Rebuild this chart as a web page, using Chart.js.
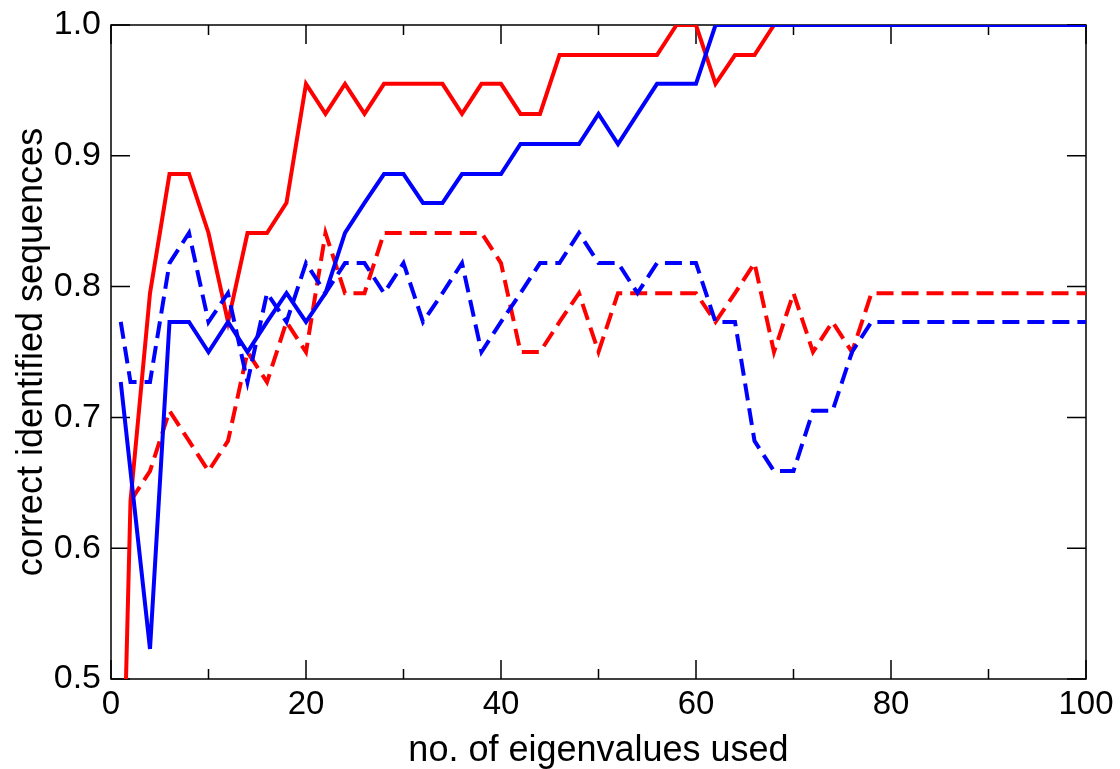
<!DOCTYPE html>
<html><head><meta charset="utf-8">
<script src="https://cdn.jsdelivr.net/npm/chart.js@4"></script>
<style>html,body{margin:0;padding:0;background:#fff}#wrap{width:1120px;height:769px;position:relative}</style>
</head><body><div id="wrap"><canvas id="c"></canvas></div>
<script>
// x positions (number of eigenvalues used)
const xValues = [1,2,4,6,8,10,12,14,16,18,20,22,24,26,28,30,32,34,36,38,40,42,44,46,48,50,52,54,56,58,60,62,64,66,68,70,72,74,76,78,80,82,84,86,88,90,92,94,96,98,100];

const redSolid = [0.341,0.636,0.795,0.886,0.886,0.841,0.773,0.841,0.841,0.864,0.955,0.932,0.955,0.932,0.955,0.955,0.955,0.955,0.932,0.955,0.955,0.932,0.932,0.977,0.977,0.977,0.977,0.977,0.977,1.0,1.0,0.955,0.977,0.977,1.0,1.0,1.0,1.0,1.0,1.0,1.0,1.0,1.0,1.0,1.0,1.0,1.0,1.0,1.0,1.0,1.0];

const redDashed = [null,0.636,0.659,0.705,0.682,0.659,0.682,0.75,0.727,0.773,0.75,0.841,0.795,0.795,0.841,0.841,0.841,0.841,0.841,0.841,0.818,0.75,0.75,0.773,0.795,0.75,0.795,0.795,0.795,0.795,0.795,0.773,0.795,0.818,0.75,0.795,0.75,0.773,0.75,0.795,0.795,0.795,0.795,0.795,0.795,0.795,0.795,0.795,0.795,0.795,0.795];

const blueSolid = [0.727,0.659,0.523,0.773,0.773,0.75,0.773,0.75,0.773,0.795,0.773,0.795,0.841,0.864,0.886,0.886,0.864,0.864,0.886,0.886,0.886,0.909,0.909,0.909,0.909,0.932,0.909,0.932,0.955,0.955,0.955,1.0,1.0,1.0,1.0,1.0,1.0,1.0,1.0,1.0,1.0,1.0,1.0,1.0,1.0,1.0,1.0,1.0,1.0,1.0,1.0];

const blueDashed = [0.773,0.727,0.727,0.818,0.841,0.773,0.795,0.727,0.795,0.773,0.818,0.795,0.818,0.818,0.795,0.818,0.773,0.795,0.818,0.75,0.773,0.795,0.818,0.818,0.841,0.818,0.818,0.795,0.818,0.818,0.818,0.773,0.773,0.682,0.659,0.659,0.705,0.705,0.75,0.773,0.773,0.773,0.773,0.773,0.773,0.773,0.773,0.773,0.773,0.773,0.773];

const xMajorTicks = [0,20,40,60,80,100];
const xMinorTicks = [10,30,50,70,90];
const yMajorTicks = [0.5,0.6,0.7,0.8,0.9,1.0];

const xTitle = 'no. of eigenvalues used';
const yTitle = 'correct identified sequences';

function pts(ys){ return xValues.map((x,i)=>({x:x,y:ys[i]})); }

const frameTicks = {
  id:'frameTicks',
  beforeDatasetsDraw(chart){
    const ctx = chart.ctx, a = chart.chartArea;
    const xs = chart.scales.x, ys = chart.scales.y;
    ctx.save();
    ctx.strokeStyle = '#000';
    ctx.lineWidth = 1.5;
    ctx.strokeRect(a.left, a.top, a.right - a.left, a.bottom - a.top);
    ctx.beginPath();
    const major = 19, minor = 10;
    xMajorTicks.forEach(v=>{ const p = xs.getPixelForValue(v);
      ctx.moveTo(p,a.bottom); ctx.lineTo(p,a.bottom-major);
      ctx.moveTo(p,a.top); ctx.lineTo(p,a.top+major); });
    xMinorTicks.forEach(v=>{ const p = xs.getPixelForValue(v);
      ctx.moveTo(p,a.bottom); ctx.lineTo(p,a.bottom-minor);
      ctx.moveTo(p,a.top); ctx.lineTo(p,a.top+minor); });
    yMajorTicks.forEach(v=>{ const p = ys.getPixelForValue(v);
      ctx.moveTo(a.left,p); ctx.lineTo(a.left+major,p);
      ctx.moveTo(a.right,p); ctx.lineTo(a.right-major,p); });
    ctx.stroke();
    ctx.restore();
  }
};

const FONT = '"Liberation Sans", Arial, Helvetica, sans-serif';

new Chart(document.getElementById('c'), {
  type:'line',
  data:{ datasets:[
    {label:'blue solid', data:pts(blueSolid), borderColor:'#0000ff', borderWidth:4, pointRadius:0, tension:0, fill:false},
    {label:'blue dashed', data:pts(blueDashed), borderColor:'#0000ff', borderWidth:4, borderDash:[17,8], pointRadius:0, tension:0, fill:false},
    {label:'red solid', data:pts(redSolid), borderColor:'#ff0000', borderWidth:4, pointRadius:0, tension:0, fill:false},
    {label:'red dashed', data:pts(redDashed), borderColor:'#ff0000', borderWidth:4, borderDash:[17,8], pointRadius:0, tension:0, fill:false}
  ]},
  options:{
    responsive:true, maintainAspectRatio:false, animation:false,
    layout:{padding:{top:25,right:34,left:0,bottom:0}},
    plugins:{legend:{display:false}, tooltip:{enabled:false}},
    scales:{
      x:{type:'linear', min:0, max:100,
        grid:{display:false, drawTicks:false}, border:{display:false},
        ticks:{stepSize:20, padding:6, color:'#000', font:{family:FONT, size:33}, maxRotation:0},
        title:{display:true, text:xTitle, color:'#000', font:{family:FONT, size:36, lineHeight:1}, padding:{top:0,bottom:0}},
        afterFit(s){ s.height = 90; s.paddingLeft = 0; s.paddingRight = 0; }
      },
      y:{type:'linear', min:0.5, max:1.0,
        grid:{display:false, drawTicks:false}, border:{display:false},
        ticks:{stepSize:0.1, padding:10, color:'#000', font:{family:FONT, size:34}, callback:v=>Number(v).toFixed(1)},
        title:{display:true, text:yTitle, color:'#000', font:{family:FONT, size:36, lineHeight:1.2}, padding:{top:10,bottom:0}},
        afterFit(s){ s.width = 111; s.paddingTop = 0; s.paddingBottom = 0; }
      }
    }
  },
  plugins:[frameTicks]
});
</script></body></html>
